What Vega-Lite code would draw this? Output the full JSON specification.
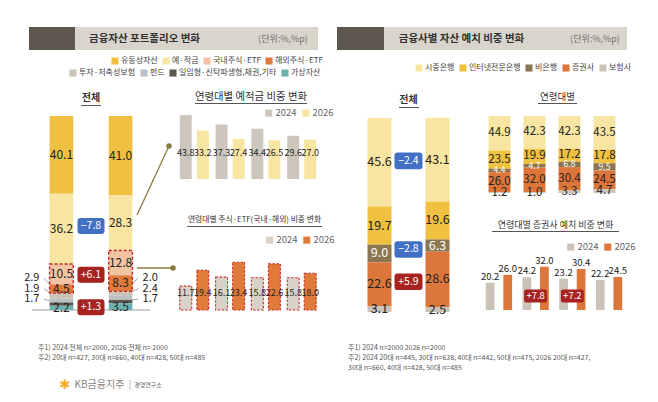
{
"$schema":"https://vega.github.io/schema/vega-lite/v6.json",
"background":"white",
"padding":0,
"autosize":{"type":"pad"},
"config":{"view":{"stroke":null},"font":"Noto Sans CJK KR"},
"datasets":{
"portfolio":[
{"year":"2024","cat":"유동성자산","value":40.1},
{"year":"2024","cat":"예·적금","value":36.2},
{"year":"2024","cat":"국내주식·ETF","value":10.5},
{"year":"2024","cat":"해외주식·ETF","value":4.5},
{"year":"2024","cat":"투자·저축성보험","value":2.9},
{"year":"2024","cat":"펀드","value":1.9},
{"year":"2024","cat":"일임형·신탁파생형,채권,기타","value":1.7},
{"year":"2024","cat":"가상자산","value":2.2},
{"year":"2026","cat":"유동성자산","value":41.0},
{"year":"2026","cat":"예·적금","value":28.3},
{"year":"2026","cat":"국내주식·ETF","value":12.8},
{"year":"2026","cat":"해외주식·ETF","value":8.3},
{"year":"2026","cat":"투자·저축성보험","value":2.0},
{"year":"2026","cat":"펀드","value":2.4},
{"year":"2026","cat":"일임형·신탁파생형,채권,기타","value":1.7},
{"year":"2026","cat":"가상자산","value":3.5}
],
"portfolioDelta":[{"g":"예·적금","delta":-7.8},{"g":"주식·ETF","delta":6.1},{"g":"가상자산","delta":1.3}],
"deposit":[
{"age":"20대","year":"2024","value":43.8},{"age":"20대","year":"2026","value":33.2},
{"age":"30대","year":"2024","value":37.3},{"age":"30대","year":"2026","value":27.4},
{"age":"40대","year":"2024","value":34.4},{"age":"40대","year":"2026","value":26.5},
{"age":"50대","year":"2024","value":29.6},{"age":"50대","year":"2026","value":27.0}
],
"stocks":[
{"age":"20대","year":"2024","value":11.7},{"age":"20대","year":"2026","value":19.4},
{"age":"30대","year":"2024","value":16.1},{"age":"30대","year":"2026","value":23.4},
{"age":"40대","year":"2024","value":15.8},{"age":"40대","year":"2026","value":22.6},
{"age":"50대","year":"2024","value":15.8},{"age":"50대","year":"2026","value":18.0}
],
"institution":[
{"year":"2024","cat":"시중은행","value":45.6},
{"year":"2024","cat":"인터넷전문은행","value":19.7},
{"year":"2024","cat":"비은행","value":9.0},
{"year":"2024","cat":"증권사","value":22.6},
{"year":"2024","cat":"보험사","value":3.1},
{"year":"2026","cat":"시중은행","value":43.1},
{"year":"2026","cat":"인터넷전문은행","value":19.6},
{"year":"2026","cat":"비은행","value":6.3},
{"year":"2026","cat":"증권사","value":28.6},
{"year":"2026","cat":"보험사","value":2.5}
],
"institutionDelta":[{"g":"시중은행","delta":-2.4},{"g":"비은행","delta":-2.8},{"g":"증권사","delta":5.9}],
"byAge":[
{"age":"20대","cat":"시중은행","value":44.9},{"age":"20대","cat":"인터넷전문은행","value":23.5},{"age":"20대","cat":"비은행","value":4.4},{"age":"20대","cat":"증권사","value":26.0},{"age":"20대","cat":"보험사","value":1.2},
{"age":"30대","cat":"시중은행","value":42.3},{"age":"30대","cat":"인터넷전문은행","value":19.9},{"age":"30대","cat":"비은행","value":4.7},{"age":"30대","cat":"증권사","value":32.0},{"age":"30대","cat":"보험사","value":1.0},
{"age":"40대","cat":"시중은행","value":42.3},{"age":"40대","cat":"인터넷전문은행","value":17.2},{"age":"40대","cat":"비은행","value":6.8},{"age":"40대","cat":"증권사","value":30.4},{"age":"40대","cat":"보험사","value":3.3},
{"age":"50대","cat":"시중은행","value":43.5},{"age":"50대","cat":"인터넷전문은행","value":17.8},{"age":"50대","cat":"비은행","value":9.5},{"age":"50대","cat":"증권사","value":24.5},{"age":"50대","cat":"보험사","value":4.7}
],
"brokerage":[
{"age":"20대","year":"2024","value":20.2},{"age":"20대","year":"2026","value":26.0},
{"age":"30대","year":"2024","value":24.2},{"age":"30대","year":"2026","value":32.0},
{"age":"40대","year":"2024","value":23.2},{"age":"40대","year":"2026","value":30.4},
{"age":"50대","year":"2024","value":22.2},{"age":"50대","year":"2026","value":24.5}
],
"brokerageDelta":[{"age":"30대","delta":7.8},{"age":"40대","delta":7.2}]
},
"spacing":0,"bounds":"flush",
"resolve":{"scale":{"color":"independent","fill":"independent","xOffset":"independent"}},
"vconcat":[
{"spacing":0,"bounds":"flush","vconcat":[
  {"width":658,"height":27,"data":{"values":[]},"mark":"point","encoding":{}},
  {"spacing":0,"bounds":"flush","hconcat":[
    {"width":29,"height":23,"data":{"values":[]},"mark":"point","encoding":{}},
    {"width":46,"height":23,"view":{"fill":"#5e574d"},"data":{"values":[]},"mark":"point","encoding":{}},
    {"width":139,"height":23,"view":{"fill":"#dad5cc"},"data":{"values":[{}]},"mark":{"type":"text","text":"금융자산 포트폴리오 변화","fontSize":10.5,"fontWeight":"bold","color":"#333333","align":"center","baseline":"middle"},"encoding":{}},
    {"width":34,"height":23,"view":{"fill":"#dad5cc"},"data":{"values":[]},"mark":"point","encoding":{}},
    {"width":70,"height":23,"view":{"fill":"#dad5cc"},"data":{"values":[{}]},"mark":{"type":"text","text":"(단위:%,%p)","fontSize":9,"color":"#6f6f6f","align":"center","baseline":"middle"},"encoding":{}},
    {"width":19,"height":23,"data":{"values":[]},"mark":"point","encoding":{}},
    {"width":47,"height":23,"view":{"fill":"#5e574d"},"data":{"values":[]},"mark":"point","encoding":{}},
    {"width":155,"height":23,"view":{"fill":"#dad5cc"},"data":{"values":[{}]},"mark":{"type":"text","text":"금융사별 자산 예치 비중 변화","fontSize":10.5,"fontWeight":"bold","color":"#333333","align":"center","baseline":"middle"},"encoding":{}},
    {"width":24,"height":23,"view":{"fill":"#dad5cc"},"data":{"values":[]},"mark":"point","encoding":{}},
    {"width":64,"height":23,"view":{"fill":"#dad5cc"},"data":{"values":[{}]},"mark":{"type":"text","text":"(단위:%,%p)","fontSize":9,"color":"#6f6f6f","align":"center","baseline":"middle"},"encoding":{}}
  ]}
]},
{"spacing":0,"bounds":"flush",
 "resolve":{"scale":{"color":"independent","fill":"independent","xOffset":"independent"}},
 "hconcat":[
  {"width":20,"height":1,"data":{"values":[]},"mark":"point","encoding":{}},
  {"spacing":0,"bounds":"flush",
   "resolve":{"scale":{"color":"independent","fill":"independent","xOffset":"independent"}},
   "vconcat":[
    {"width":1,"height":90,"data":{"values":[]},"mark":"point","encoding":{}},
    {"width":142,"height":16,"data":{"values":[{}]},"mark":{"type":"text","text":"전체","fontSize":10,"fontWeight":"bold","color":"#333333","align":"center","baseline":"middle"},"encoding":{}},
    {"width":1,"height":10,"data":{"values":[]},"mark":"point","encoding":{}},
    {"width":142,"height":194,
     "data":{"name":"portfolio"},
     "transform":[
       {"calculate":"indexof(['유동성자산','예·적금','국내주식·ETF','해외주식·ETF','투자·저축성보험','펀드','일임형·신탁파생형,채권,기타','가상자산'], datum.cat)","as":"k"},
       {"stack":"value","groupby":["year"],"sort":[{"field":"k","order":"descending"}],"as":["y0","y1"]},
       {"calculate":"(datum.y0 + datum.y1) / 2","as":"ym"}
     ],
     "layer":[
      {"transform":[{"aggregate":[{"op":"count","as":"n"}]},{"calculate":"'L'","as":"a"},{"calculate":"'R'","as":"b"},{"calculate":"0","as":"z"}],
       "mark":{"type":"rule","color":"#9d9d9d","strokeWidth":1.2},
       "encoding":{
         "x":{"field":"a","type":"nominal","scale":{"domain":["L","2024","mid","2026","R"],"paddingInner":0.2,"paddingOuter":0},"axis":null},
         "x2":{"field":"b"},
         "y":{"field":"z","type":"quantitative","scale":{"domain":[0,100],"nice":false},"axis":null}}},
      {"transform":[
         {"filter":{"field":"cat","oneOf":["투자·저축성보험","펀드","일임형·신탁파생형,채권,기타"]}},
         {"filter":"datum.year === '2024'"},
         {"window":[{"op":"row_number","as":"r"}],"sort":[{"field":"k","order":"descending"}]},
         {"calculate":"5.4 * datum.r + 0.2","as":"ly"},
         {"calculate":"'L'","as":"lx"}],
       "mark":{"type":"rule","color":"#8f8f8f","strokeWidth":0.8},
       "encoding":{
         "x":{"field":"lx","type":"nominal","bandPosition":1,"axis":null},
         "x2":{"field":"year"},
         "y":{"field":"ly","type":"quantitative","axis":null},
         "y2":{"field":"ym"}}},
      {"transform":[
         {"filter":{"field":"cat","oneOf":["투자·저축성보험","펀드","일임형·신탁파생형,채권,기타"]}},
         {"filter":"datum.year === '2026'"},
         {"window":[{"op":"row_number","as":"r"}],"sort":[{"field":"k","order":"descending"}]},
         {"calculate":"5.4 * datum.r + 0.2","as":"ly"},
         {"calculate":"'R'","as":"lx"}],
       "mark":{"type":"rule","color":"#8f8f8f","strokeWidth":0.8},
       "encoding":{
         "x":{"field":"lx","type":"nominal","bandPosition":0,"axis":null},
         "x2":{"field":"year"},
         "y":{"field":"ly","type":"quantitative","axis":null},
         "y2":{"field":"ym"}}},
      {"transform":[{"filter":{"field":"cat","oneOf":["유동성자산","예·적금","국내주식·ETF","해외주식·ETF"]}}],
       "mark":{"type":"bar"},
       "encoding":{
         "x":{"field":"year","type":"nominal","axis":{"values":["2024","2026"],"title":null,"domain":false,"ticks":false,"labelAngle":0,"labelPadding":6,"labelFontSize":10,"labelColor":"#555555"}},
         "y":{"field":"y0","type":"quantitative","axis":null},
         "y2":{"field":"y1"},
         "color":{"field":"cat","type":"nominal",
           "scale":{"domain":["유동성자산","예·적금","국내주식·ETF","해외주식·ETF"],"range":["#f0c140","#f8e5a1","#f2c4a3","#e07b39"]},
           "legend":{"title":null,"orient":"none","legendX":91,"legendY":-59,"direction":"horizontal","symbolType":"square","symbolSize":50,"symbolStrokeWidth":0,"labelFontSize":8,"labelColor":"#444444","labelOffset":2,"columnPadding":4,"padding":0}}}},
      {"transform":[{"filter":{"field":"cat","oneOf":["투자·저축성보험","펀드","일임형·신탁파생형,채권,기타","가상자산"]}}],
       "mark":{"type":"bar"},
       "encoding":{
         "x":{"field":"year","type":"nominal","axis":null},
         "y":{"field":"y0","type":"quantitative","axis":null},
         "y2":{"field":"y1"},
         "fill":{"field":"cat","type":"nominal",
           "scale":{"domain":["투자·저축성보험","펀드","일임형·신탁파생형,채권,기타","가상자산"],"range":["#cbc3b8","#bcc0c4","#5b5650","#6cb0b0"]},
           "legend":{"title":null,"orient":"none","legendX":49,"legendY":-47,"direction":"horizontal","symbolType":"square","symbolSize":50,"symbolStrokeWidth":0,"labelFontSize":8,"labelColor":"#444444","labelOffset":2,"columnPadding":4,"padding":0}}}},
      {"transform":[
         {"filter":{"field":"cat","oneOf":["국내주식·ETF","해외주식·ETF"]}},
         {"aggregate":[{"op":"min","field":"y0","as":"lo"},{"op":"max","field":"y1","as":"hi"}],"groupby":["year"]}],
       "mark":{"type":"bar","fill":"transparent","stroke":"#c3272e","strokeWidth":1.4,"strokeDash":[3,2]},
       "encoding":{
         "x":{"field":"year","type":"nominal","axis":null},
         "y":{"field":"lo","type":"quantitative","axis":null},
         "y2":{"field":"hi"}}},
      {"transform":[{"filter":{"not":{"field":"cat","oneOf":["투자·저축성보험","펀드","일임형·신탁파생형,채권,기타"]}}}],
       "mark":{"type":"text","fontSize":12,"color":"#222222"},
       "encoding":{
         "x":{"field":"year","type":"nominal","axis":null},
         "y":{"field":"ym","type":"quantitative","axis":null},
         "text":{"field":"value","type":"quantitative","format":".1f"}}},
      {"transform":[
         {"filter":{"field":"cat","oneOf":["투자·저축성보험","펀드","일임형·신탁파생형,채권,기타"]}},
         {"window":[{"op":"row_number","as":"r"}],"groupby":["year"],"sort":[{"field":"k","order":"descending"}]},
         {"calculate":"5.4 * datum.r + 0.2","as":"ly"},
         {"calculate":"datum.year === '2024' ? 'L' : 'R'","as":"lx"}],
       "mark":{"type":"text","fontSize":11,"color":"#222222"},
       "encoding":{
         "x":{"field":"lx","type":"nominal","axis":null},
         "y":{"field":"ly","type":"quantitative","axis":null},
         "text":{"field":"value","type":"quantitative","format":".1f"}}},
      {"transform":[
         {"filter":{"field":"cat","oneOf":["예·적금","국내주식·ETF","해외주식·ETF","가상자산"]}},
         {"calculate":"indexof(['국내주식·ETF','해외주식·ETF'], datum.cat) >= 0 ? '주식·ETF' : datum.cat","as":"g"},
         {"aggregate":[{"op":"min","field":"y0","as":"lo"},{"op":"max","field":"y1","as":"hi"}],"groupby":["year","g"]},
         {"calculate":"(datum.lo + datum.hi) / 2","as":"c"},
         {"aggregate":[{"op":"mean","field":"c","as":"m"}],"groupby":["g"]},
         {"lookup":"g","from":{"data":{"name":"portfolioDelta"},"key":"g","fields":["delta"]}},
         {"calculate":"'mid'","as":"pos"}],
       "mark":{"type":"point","shape":"M-0.78,-0.593L0.78,-0.593Q1,-0.593 1,-0.373L1,0.373Q1,0.593 0.78,0.593L-0.78,0.593Q-1,0.593 -1,0.373L-1,-0.373Q-1,-0.593 -0.78,-0.593Z","size":729,"filled":true,"opacity":1},
       "encoding":{
         "x":{"field":"pos","type":"nominal","axis":null},
         "y":{"field":"m","type":"quantitative","axis":null},
         "color":{"condition":{"test":"datum.delta < 0","value":"#4170c4"},"value":"#a7231f"}}},
      {"transform":[
         {"filter":{"field":"cat","oneOf":["예·적금","국내주식·ETF","해외주식·ETF","가상자산"]}},
         {"calculate":"indexof(['국내주식·ETF','해외주식·ETF'], datum.cat) >= 0 ? '주식·ETF' : datum.cat","as":"g"},
         {"aggregate":[{"op":"min","field":"y0","as":"lo"},{"op":"max","field":"y1","as":"hi"}],"groupby":["year","g"]},
         {"calculate":"(datum.lo + datum.hi) / 2","as":"c"},
         {"aggregate":[{"op":"mean","field":"c","as":"m"}],"groupby":["g"]},
         {"lookup":"g","from":{"data":{"name":"portfolioDelta"},"key":"g","fields":["delta"]}},
         {"calculate":"'mid'","as":"pos"}],
       "mark":{"type":"text","fontSize":10.5,"color":"white"},
       "encoding":{
         "x":{"field":"pos","type":"nominal","axis":null},
         "y":{"field":"m","type":"quantitative","axis":null},
         "text":{"field":"delta","type":"quantitative","format":"+.1f"}}}
     ]}
  ]}
 ]},
{"spacing":0,"bounds":"flush","hconcat":[
  {"width":81,"height":1,"data":{"values":[]},"mark":"point","encoding":{}},
  {"spacing":0,"bounds":"flush","vconcat":[
    {"width":1,"height":105,"data":{"values":[]},"mark":"point","encoding":{}},
    {"width":20,"height":1,"view":{"fill":"#555555"},"data":{"values":[]},"mark":"point","encoding":{}}
  ]}
]},
{"spacing":0,"bounds":"flush","hconcat":[
  {"width":137,"height":1,"data":{"values":[]},"mark":"point","encoding":{}},
  {"spacing":0,"bounds":"flush","vconcat":[
    {"width":1,"height":146,"data":{"values":[]},"mark":"point","encoding":{}},
    {"width":32,"height":69,"data":{"values":[{}]},
     "layer":[
       {"mark":{"type":"rule","color":"#8c7a3c","strokeWidth":1.3},
        "encoding":{"x":{"value":0},"y":{"value":"height"},"x2":{"value":"width"},"y2":{"value":0}}},
       {"mark":{"type":"point","filled":true,"color":"#8c7a3c","size":30,"opacity":1},
        "encoding":{"x":{"value":"width"},"y":{"value":0}}}
     ]},
    {"width":1,"height":53,"data":{"values":[]},"mark":"point","encoding":{}},
    {"width":36,"height":1,"data":{"values":[{}]},
     "layer":[
       {"mark":{"type":"rule","color":"#8c7a3c","strokeWidth":1.3},
        "encoding":{"x":{"value":0},"x2":{"value":"width"},"y":{"value":0}}},
       {"mark":{"type":"point","filled":true,"color":"#8c7a3c","size":30,"opacity":1},
        "encoding":{"x":{"value":"width"},"y":{"value":0}}}
     ]}
  ]}
]},
{"spacing":0,"bounds":"flush",
 "resolve":{"scale":{"color":"independent","fill":"independent","xOffset":"independent"}},
 "hconcat":[
  {"width":173,"height":1,"data":{"values":[]},"mark":"point","encoding":{}},
  {"spacing":0,"bounds":"flush",
   "resolve":{"scale":{"color":"independent","fill":"independent","xOffset":"independent"}},
   "vconcat":[
    {"width":1,"height":106,"data":{"values":[]},"mark":"point","encoding":{}},
    {"width":150,"height":73,
     "data":{"name":"deposit"},
     "transform":[{"calculate":"18","as":"ly"}],
     "layer":[
       {"mark":{"type":"bar"},
        "encoding":{
          "x":{"field":"age","type":"nominal","scale":{"paddingInner":0.19,"paddingOuter":0.19},"axis":{"title":null,"labelAngle":0,"ticks":false,"domainColor":"#9d9d9d","labelPadding":6,"labelFontSize":10,"labelColor":"#555555"}},
          "xOffset":{"field":"year","type":"nominal","scale":{"paddingInner":0.3,"paddingOuter":0}},
          "y":{"field":"value","type":"quantitative","scale":{"domain":[0,50],"nice":false},"axis":null},
          "color":{"field":"year","type":"nominal","scale":{"domain":["2024","2026"],"range":["#cdc6bc","#f8e5a1"]},
            "legend":{"title":null,"orient":"none","legendX":91,"legendY":2,"direction":"horizontal","symbolType":"square","symbolSize":50,"symbolStrokeWidth":0,"labelFontSize":9.5,"labelColor":"#666666","labelOffset":2,"columnPadding":4,"padding":0}}}},
       {"mark":{"type":"text","fontSize":9,"color":"#222222"},
        "encoding":{
          "x":{"field":"age","type":"nominal","axis":null},
          "xOffset":{"field":"year","type":"nominal"},
          "y":{"field":"ly","type":"quantitative","axis":null},
          "text":{"field":"value","type":"quantitative","format":".1f"}}}
     ]},
    {"width":1,"height":80,"data":{"values":[]},"mark":"point","encoding":{}},
    {"width":150,"height":51,
     "data":{"name":"stocks"},
     "transform":[{"calculate":"8.5","as":"ly"}],
     "layer":[
       {"mark":{"type":"bar","stroke":"#c8322f","strokeWidth":1.1,"strokeDash":[2.5,1.5]},
        "encoding":{
          "x":{"field":"age","type":"nominal","scale":{"paddingInner":0.19,"paddingOuter":0.19},"axis":{"title":null,"labelAngle":0,"ticks":false,"domainColor":"#9d9d9d","labelPadding":7,"labelFontSize":10,"labelColor":"#555555"}},
          "xOffset":{"field":"year","type":"nominal","scale":{"paddingInner":0.3,"paddingOuter":0}},
          "y":{"field":"value","type":"quantitative","scale":{"domain":[0,25],"nice":false},"axis":null},
          "color":{"field":"year","type":"nominal","scale":{"domain":["2024","2026"],"range":["#d9d2c9","#e07b39"]},
            "legend":{"title":null,"orient":"none","legendX":92,"legendY":-24,"direction":"horizontal","symbolType":"square","symbolSize":50,"symbolStrokeWidth":0,"labelFontSize":9.5,"labelColor":"#666666","labelOffset":2,"columnPadding":4,"padding":0}}}},
       {"mark":{"type":"text","fontSize":9,"color":"#222222"},
        "encoding":{
          "x":{"field":"age","type":"nominal","axis":null},
          "xOffset":{"field":"year","type":"nominal"},
          "y":{"field":"ly","type":"quantitative","axis":null},
          "text":{"field":"value","type":"quantitative","format":".1f"}}}
     ]}
  ]}
]},
{"spacing":0,"bounds":"flush","hconcat":[
  {"width":195,"height":1,"data":{"values":[]},"mark":"point","encoding":{}},
  {"spacing":0,"bounds":"flush","vconcat":[
    {"width":1,"height":91,"data":{"values":[]},"mark":"point","encoding":{}},
    {"width":112,"height":12,"data":{"values":[{}]},"mark":{"type":"text","text":"연령대별 예적금 비중 변화","fontSize":10.4,"color":"#333333","align":"center","baseline":"middle"},"encoding":{}},
    {"width":112,"height":1,"view":{"fill":"#555555"},"data":{"values":[]},"mark":"point","encoding":{}}
  ]}
]},
{"spacing":0,"bounds":"flush","hconcat":[
  {"width":187,"height":1,"data":{"values":[]},"mark":"point","encoding":{}},
  {"spacing":0,"bounds":"flush","vconcat":[
    {"width":1,"height":214,"data":{"values":[]},"mark":"point","encoding":{}},
    {"width":135,"height":12,"data":{"values":[{}]},"mark":{"type":"text","text":"연령대별 주식·ETF(국내·해외) 비중 변화","fontSize":7.8,"color":"#333333","align":"center","baseline":"middle"},"encoding":{}},
    {"width":135,"height":1,"view":{"fill":"#555555"},"data":{"values":[]},"mark":"point","encoding":{}}
  ]}
]},
{"spacing":0,"bounds":"flush",
 "resolve":{"scale":{"color":"independent","fill":"independent","xOffset":"independent"}},
 "hconcat":[
  {"width":350,"height":1,"data":{"values":[]},"mark":"point","encoding":{}},
  {"spacing":0,"bounds":"flush",
   "resolve":{"scale":{"color":"independent","fill":"independent","xOffset":"independent"}},
   "vconcat":[
    {"width":1,"height":92,"data":{"values":[]},"mark":"point","encoding":{}},
    {"width":117,"height":16,"data":{"values":[{}]},"mark":{"type":"text","text":"전체","fontSize":10,"fontWeight":"bold","color":"#333333","align":"center","baseline":"middle"},"encoding":{}},
    {"width":1,"height":10,"data":{"values":[]},"mark":"point","encoding":{}},
    {"width":117,"height":194,
     "data":{"name":"institution"},
     "transform":[
       {"calculate":"indexof(['시중은행','인터넷전문은행','비은행','증권사','보험사'], datum.cat)","as":"k"},
       {"stack":"value","groupby":["year"],"sort":[{"field":"k","order":"descending"}],"as":["y0","y1"]},
       {"calculate":"(datum.y0 + datum.y1) / 2","as":"ym"}
     ],
     "layer":[
      {"mark":{"type":"bar"},
       "encoding":{
         "x":{"field":"year","type":"nominal","scale":{"domain":["2024","mid","2026"],"paddingInner":0.172,"paddingOuter":0.603},"axis":{"values":["2024","2026"],"title":null,"domainColor":"#9d9d9d","domainWidth":1.2,"ticks":false,"labelAngle":0,"labelPadding":8,"labelFontSize":10,"labelColor":"#555555"}},
         "y":{"field":"y0","type":"quantitative","scale":{"domain":[0,100],"nice":false},"axis":null},
         "y2":{"field":"y1"},
         "color":{"field":"cat","type":"nominal",
           "scale":{"domain":["시중은행","인터넷전문은행","비은행","증권사","보험사"],"range":["#f8e5a1","#f0c140","#8a7752","#dd763a","#cbc3b8"]},
           "legend":{"title":null,"orient":"none","legendX":65,"legendY":-54,"direction":"horizontal","symbolType":"square","symbolSize":50,"symbolStrokeWidth":0,"labelFontSize":8,"labelColor":"#444444","labelOffset":2,"columnPadding":4,"padding":0}}}},
      {"mark":{"type":"text","fontSize":12.5},
       "encoding":{
         "x":{"field":"year","type":"nominal","axis":null},
         "y":{"field":"ym","type":"quantitative","axis":null},
         "text":{"field":"value","type":"quantitative","format":".1f"},
         "color":{"condition":{"test":"datum.cat === '비은행'","value":"#ffffff"},"value":"#222222"}}},
      {"transform":[
         {"filter":{"field":"cat","oneOf":["시중은행","비은행","증권사"]}},
         {"aggregate":[{"op":"mean","field":"ym","as":"m"}],"groupby":["cat"]},
         {"lookup":"cat","from":{"data":{"name":"institutionDelta"},"key":"g","fields":["delta"]}},
         {"calculate":"'mid'","as":"pos"}],
       "mark":{"type":"point","shape":"M-0.78,-0.593L0.78,-0.593Q1,-0.593 1,-0.373L1,0.373Q1,0.593 0.78,0.593L-0.78,0.593Q-1,0.593 -1,0.373L-1,-0.373Q-1,-0.593 -0.78,-0.593Z","size":784,"filled":true,"opacity":1},
       "encoding":{
         "x":{"field":"pos","type":"nominal","axis":null},
         "y":{"field":"m","type":"quantitative","axis":null},
         "color":{"condition":{"test":"datum.delta < 0","value":"#4170c4"},"value":"#a7231f"}}},
      {"transform":[
         {"filter":{"field":"cat","oneOf":["시중은행","비은행","증권사"]}},
         {"aggregate":[{"op":"mean","field":"ym","as":"m"}],"groupby":["cat"]},
         {"lookup":"cat","from":{"data":{"name":"institutionDelta"},"key":"g","fields":["delta"]}},
         {"calculate":"'mid'","as":"pos"}],
       "mark":{"type":"text","fontSize":10.5,"color":"white"},
       "encoding":{
         "x":{"field":"pos","type":"nominal","axis":null},
         "y":{"field":"m","type":"quantitative","axis":null},
         "text":{"field":"delta","type":"quantitative","format":"+.1f"}}}
     ]}
  ]}
]},
{"spacing":0,"bounds":"flush","hconcat":[
  {"width":399,"height":1,"data":{"values":[]},"mark":"point","encoding":{}},
  {"spacing":0,"bounds":"flush","vconcat":[
    {"width":1,"height":107,"data":{"values":[]},"mark":"point","encoding":{}},
    {"width":20,"height":1,"view":{"fill":"#555555"},"data":{"values":[]},"mark":"point","encoding":{}}
  ]}
]},
{"spacing":0,"bounds":"flush",
 "resolve":{"scale":{"color":"independent","fill":"independent","xOffset":"independent"}},
 "hconcat":[
  {"width":481,"height":1,"data":{"values":[]},"mark":"point","encoding":{}},
  {"spacing":0,"bounds":"flush",
   "resolve":{"scale":{"color":"independent","fill":"independent","xOffset":"independent"}},
   "vconcat":[
    {"width":1,"height":116,"data":{"values":[]},"mark":"point","encoding":{}},
    {"width":142,"height":77,
     "data":{"name":"byAge"},
     "transform":[
       {"calculate":"indexof(['시중은행','인터넷전문은행','비은행','증권사','보험사'], datum.cat)","as":"k"},
       {"stack":"value","groupby":["age"],"sort":[{"field":"k","order":"descending"}],"as":["y0","y1"]},
       {"calculate":"(datum.y0 + datum.y1) / 2","as":"ym"}
     ],
     "layer":[
      {"mark":{"type":"bar"},
       "encoding":{
         "x":{"field":"age","type":"nominal","scale":{"paddingInner":0.371,"paddingOuter":0.214},"axis":{"title":null,"domainColor":"#9d9d9d","domainWidth":1.2,"ticks":false,"labelAngle":0,"labelPadding":8,"labelFontSize":10,"labelColor":"#555555"}},
         "y":{"field":"y0","type":"quantitative","scale":{"domain":[0,100],"nice":false},"axis":null},
         "y2":{"field":"y1"},
         "color":{"field":"cat","type":"nominal",
           "scale":{"domain":["시중은행","인터넷전문은행","비은행","증권사","보험사"],"range":["#f8e5a1","#f0c140","#8a7752","#dd763a","#cbc3b8"]},
           "legend":null}}},
      {"mark":{"type":"text"},
       "encoding":{
         "x":{"field":"age","type":"nominal","axis":null},
         "y":{"field":"ym","type":"quantitative","axis":null},
         "text":{"field":"value","type":"quantitative","format":".1f"},
         "size":{"condition":{"test":"datum.cat === '비은행'","value":8.5},"value":11.5},
         "color":{"condition":{"test":"datum.cat === '비은행'","value":"#ffffff"},"value":"#222222"}}}
     ]},
    {"width":1,"height":63,"data":{"values":[]},"mark":"point","encoding":{}},
    {"width":146,"height":54,
     "layer":[
      {"data":{"name":"brokerage"},
       "mark":{"type":"bar"},
       "encoding":{
         "x":{"field":"age","type":"nominal","scale":{"domain":["20대","30대","40대","50대"],"paddingInner":0.283,"paddingOuter":0.13},"axis":{"title":null,"domainColor":"#9d9d9d","domainWidth":1.2,"ticks":false,"labelAngle":0,"labelPadding":7,"labelFontSize":10,"labelColor":"#555555"}},
         "xOffset":{"field":"year","type":"nominal","scale":{"paddingInner":0.5,"paddingOuter":0}},
         "y":{"field":"value","type":"quantitative","scale":{"domain":[0,40],"nice":false},"axis":null},
         "color":{"field":"year","type":"nominal","scale":{"domain":["2024","2026"],"range":["#cbc3b8","#dd763a"]},
           "legend":{"title":null,"orient":"none","legendX":85,"legendY":-14,"direction":"horizontal","symbolType":"square","symbolSize":50,"symbolStrokeWidth":0,"labelFontSize":9.5,"labelColor":"#666666","labelOffset":2,"columnPadding":4,"padding":0}}}},
      {"data":{"name":"brokerage"},
       "mark":{"type":"text","fontSize":9.5,"color":"#222222","baseline":"bottom","dy":-1},
       "encoding":{
         "x":{"field":"age","type":"nominal","axis":null},
         "xOffset":{"field":"year","type":"nominal"},
         "y":{"field":"value","type":"quantitative","axis":null},
         "text":{"field":"value","type":"quantitative","format":".1f"}}},
      {"data":{"name":"brokerageDelta"},
       "transform":[{"calculate":"10.4","as":"by"}],
       "mark":{"type":"point","shape":"M-0.8,-0.565L0.8,-0.565Q1,-0.565 1,-0.365L1,0.365Q1,0.565 0.8,0.565L-0.8,0.565Q-1,0.565 -1,0.365L-1,-0.365Q-1,-0.565 -0.8,-0.565Z","size":529,"filled":true,"opacity":1,"color":"#a7231f"},
       "encoding":{
         "x":{"field":"age","type":"nominal","axis":null},
         "y":{"field":"by","type":"quantitative","axis":null}}},
      {"data":{"name":"brokerageDelta"},
       "transform":[{"calculate":"10.4","as":"by"}],
       "mark":{"type":"text","fontSize":9.5,"color":"white"},
       "encoding":{
         "x":{"field":"age","type":"nominal","axis":null},
         "y":{"field":"by","type":"quantitative","axis":null},
         "text":{"field":"delta","type":"quantitative","format":"+.1f"}}}
     ]}
  ]}
]},
{"spacing":0,"bounds":"flush","hconcat":[
  {"width":538,"height":1,"data":{"values":[]},"mark":"point","encoding":{}},
  {"spacing":0,"bounds":"flush","vconcat":[
    {"width":1,"height":91,"data":{"values":[]},"mark":"point","encoding":{}},
    {"width":39,"height":12,"data":{"values":[{}]},"mark":{"type":"text","text":"연령대별","fontSize":9.5,"color":"#333333","align":"center","baseline":"middle"},"encoding":{}},
    {"width":39,"height":1,"view":{"fill":"#555555"},"data":{"values":[]},"mark":"point","encoding":{}}
  ]}
]},
{"spacing":0,"bounds":"flush","hconcat":[
  {"width":492,"height":1,"data":{"values":[]},"mark":"point","encoding":{}},
  {"spacing":0,"bounds":"flush","vconcat":[
    {"width":1,"height":219,"data":{"values":[]},"mark":"point","encoding":{}},
    {"width":127,"height":12,"data":{"values":[{}]},"mark":{"type":"text","text":"연령대별 증권사 예치 비중 변화","fontSize":9,"color":"#333333","align":"center","baseline":"middle"},"encoding":{}},
    {"width":127,"height":1,"view":{"fill":"#555555"},"data":{"values":[]},"mark":"point","encoding":{}}
  ]}
]},
{"spacing":0,"bounds":"flush","hconcat":[
  {"width":37,"height":1,"data":{"values":[]},"mark":"point","encoding":{}},
  {"spacing":0,"bounds":"flush","vconcat":[
    {"width":1,"height":343,"data":{"values":[]},"mark":"point","encoding":{}},
    {"width":2,"height":2,"data":{"values":[{}]},"mark":{"type":"text","align":"left","baseline":"top","fontSize":7,"lineHeight":10,"color":"#555555","text":["주1) 2024 전체 n=2000, 2026 전체 n= 2000","주2) 20대 n=427, 30대 n=660, 40대 n=428, 50대 n=485"]},"encoding":{}}
  ]}
]},
{"spacing":0,"bounds":"flush","hconcat":[
  {"width":347,"height":1,"data":{"values":[]},"mark":"point","encoding":{}},
  {"spacing":0,"bounds":"flush","vconcat":[
    {"width":1,"height":343,"data":{"values":[]},"mark":"point","encoding":{}},
    {"width":2,"height":2,"data":{"values":[{}]},"mark":{"type":"text","align":"left","baseline":"top","fontSize":7,"lineHeight":10,"color":"#555555","text":["주1) 2024 n=2000 2026 n=2000","주2) 2024 20대 n=445, 30대 n=638, 40대 n=442, 50대 n=475, 2026 20대 n=427,","30대 n=660, 40대 n=428, 50대 n=485"]},"encoding":{}}
  ]}
]},
{"spacing":0,"bounds":"flush","hconcat":[
  {"width":58,"height":1,"data":{"values":[]},"mark":"point","encoding":{}},
  {"spacing":0,"bounds":"flush","vconcat":[
    {"width":1,"height":378,"data":{"values":[]},"mark":"point","encoding":{}},
    {"spacing":0,"bounds":"flush","hconcat":[
      {"width":14,"height":14,"data":{"values":[{}]},"mark":{"type":"text","text":"✱","font":"DejaVu Sans","fontSize":13,"color":"#f0ad1c","align":"center","baseline":"middle"},"encoding":{}},
      {"width":55,"height":14,"data":{"values":[{}]},"mark":{"type":"text","text":"KB금융지주","fontSize":10,"color":"#8a8580","align":"center","baseline":"middle"},"encoding":{}},
      {"width":6,"height":14,"data":{"values":[{}]},"mark":{"type":"text","text":"|","fontSize":9,"color":"#999999","align":"center","baseline":"middle"},"encoding":{}},
      {"width":30,"height":14,"data":{"values":[{}]},"mark":{"type":"text","text":"경영연구소","fontSize":6,"color":"#666666","align":"center","baseline":"middle"},"encoding":{}}
    ]}
  ]}
]},
{"width":658,"height":402,"data":{"values":[]},"mark":"point","encoding":{}}
]
}
